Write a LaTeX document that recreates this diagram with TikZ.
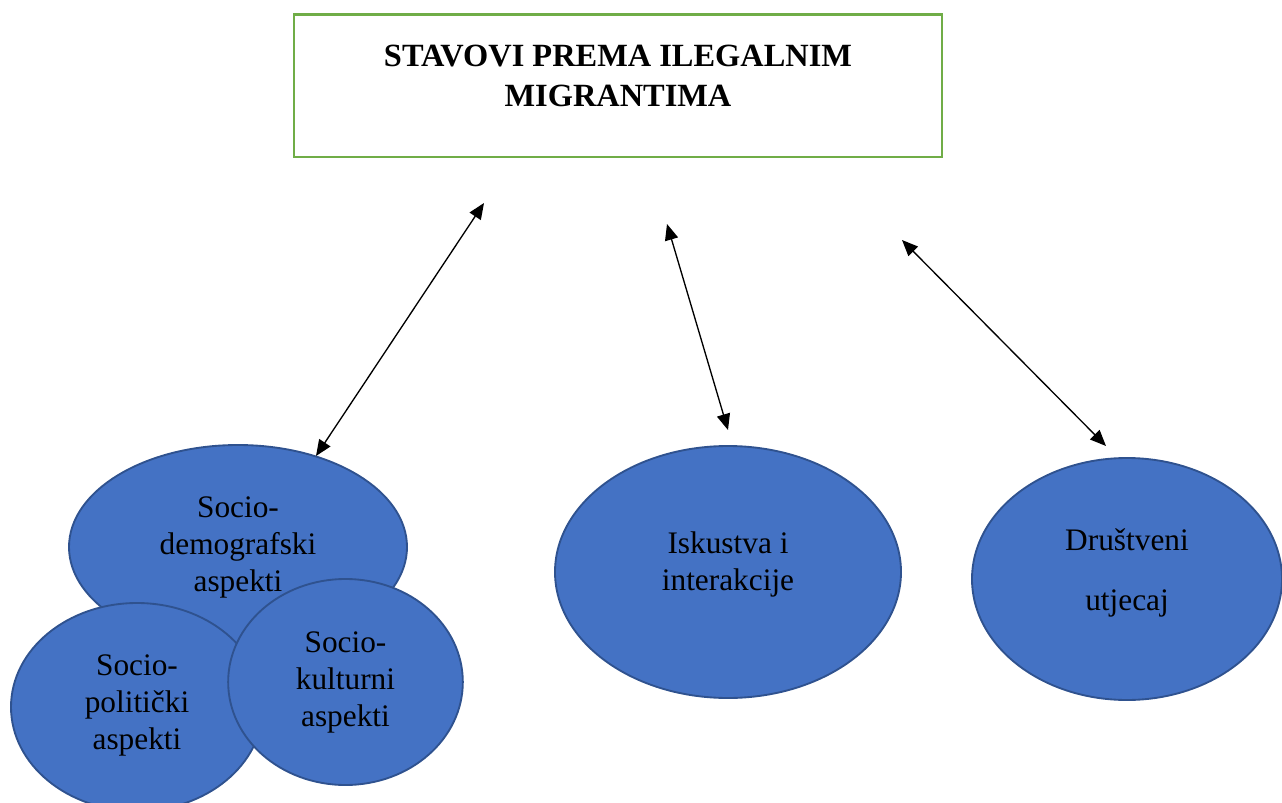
\documentclass[tikz,border=0pt]{standalone}
\usepackage{fontspec}
\setmainfont{Liberation Serif}
\usetikzlibrary{shapes.geometric}
\usetikzlibrary{arrows.meta}
\definecolor{boxgreen}{HTML}{70AD47}
\definecolor{blobfill}{HTML}{4472C4}
\definecolor{blobline}{HTML}{2F528F}
\tikzset{
  titlebox/.style={draw=boxgreen, line width=2pt, rectangle, align=center,
    minimum width=486pt, minimum height=107pt, text depth=15pt,
    font=\fontsize{24.3}{30}\selectfont\bfseries},
  blob/.style={ellipse, draw=blobline, fill=blobfill, line width=1.4pt,
    inner sep=0pt, align=center, font=\fontsize{23.5}{27.75}\selectfont},
  link/.style={black, line width=1pt,
    {Triangle[length=12pt,width=10pt]}-{Triangle[length=12pt,width=10pt]}}
}

\begin{document}
\begin{tikzpicture}[x=0.75pt, y=-0.75pt]
\useasboundingbox (0,0) rectangle (1282,803);
% heading
\node[titlebox] (stavovi) at (618,85.5) {STAVOVI PREMA ILEGALNIM\\MIGRANTIMA};
% factors
\node[blob, minimum width=253.5pt, minimum height=153pt] (demo) at (238,547) {Socio-\\demografski\\aspekti};
\node[blob, minimum width=189pt, minimum height=156pt, text depth=8pt] (polit) at (137,707) {Socio-\\politički\\aspekti};
\node[blob, minimum width=176pt, minimum height=154.5pt] (kult) at (345.5,682) {Socio-\\kulturni\\aspekti};
\node[blob, minimum width=259.5pt, minimum height=189pt, text depth=16pt] (iskustva) at (728,572) {Iskustva i\\interakcije};
\node[blob, minimum width=232.5pt, minimum height=181.5pt, text depth=14pt] (utjecaj) at (1127,579) {Društveni\\[17pt]utjecaj};
% arrows
\coordinate (t1) at (484,203);
\coordinate (b1) at (316,456);
\coordinate (t2) at (667,224);
\coordinate (b2) at (728,430);
\coordinate (t3) at (902,240);
\coordinate (b3) at (1106,446);
\draw[link] (t1) -- (b1);
\draw[link] (t2) -- (b2);
\draw[link] (t3) -- (b3);
\end{tikzpicture}
\end{document}
